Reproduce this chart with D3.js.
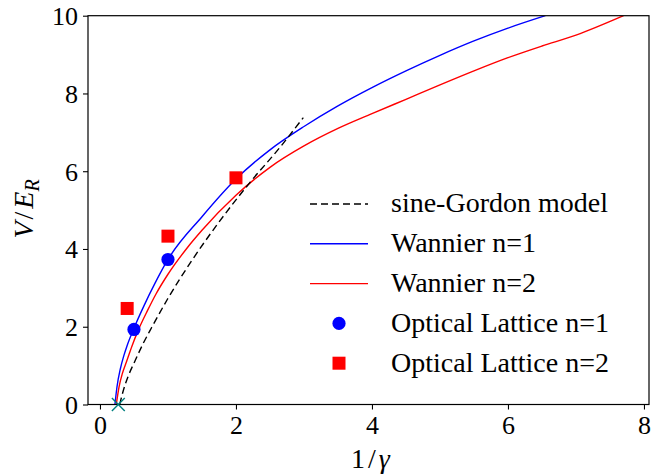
<!DOCTYPE html>
<html lang="en">
<head>
  <meta charset="UTF-8" />
  <title>V/E_R vs 1/gamma</title>
  <script src="https://d3js.org/d3.v7.min.js"></script>
  <style>
    body { margin: 0; background: #fff; }
    text { font-family: "Liberation Serif", "DejaVu Serif", serif; fill: #000; }
  </style>
</head>
<body>
  <div id="chart"></div>
  <script>
    // sine-Gordon model (dashed)
    var sgX = [0.29, 0.35, 0.42, 0.51, 0.63, 0.76, 0.99, 1.35, 1.72, 2.21, 2.65, 2.99];
    var sgY = [0, 0.4, 0.75, 1.1, 1.55, 1.98, 2.7, 3.7, 4.62, 5.72, 6.62, 7.38];

    // Wannier n=1
    var w1X = [0.22, 0.25, 0.3, 0.35, 0.4, 0.49, 0.65, 0.81, 1.0, 1.5, 2.0, 2.5, 3.0, 3.5, 4.0, 4.5, 5.0, 5.5, 6.0, 6.55];
    var w1Y = [0, 0.45, 0.92, 1.25, 1.52, 1.92, 2.55, 3.12, 3.73, 4.83, 5.8, 6.55, 7.15, 7.68, 8.15, 8.58, 8.98, 9.35, 9.68, 10.0];

    // Wannier n=2
    var w2X = [0.24, 0.28, 0.33, 0.39, 0.47, 0.56, 0.7, 0.82, 1.0, 1.27, 1.5, 2.0, 2.5, 3.0, 3.5, 4.0, 4.5, 5.0, 5.5, 6.0, 6.5, 7.0, 7.7];
    var w2Y = [0, 0.45, 0.8, 1.1, 1.5, 1.9, 2.42, 2.83, 3.35, 4.0, 4.48, 5.38, 6.1, 6.65, 7.1, 7.48, 7.85, 8.22, 8.58, 8.92, 9.22, 9.5, 10.0];

    // optical lattice points
    var ol1X = [0.5, 1.0];
    var ol1Y = [1.93, 3.73];
    var ol2X = [0.4, 1.0, 2.0];
    var ol2Y = [2.47, 4.33, 5.83];

    // cross marker
    var crossX = [0.27];
    var crossY = [0];

    var xTicks = [0, 2, 4, 6, 8];
    var yTicks = [0, 2, 4, 6, 8, 10];

    var legendLabels = ["sine-Gordon model", "Wannier n=1", "Wannier n=2",
                        "Optical Lattice n=1", "Optical Lattice n=2"];

    var w = 651, h = 474;
    var pLeft = 88, pRight = 649, pTop = 15.7, pBottom = 404.5;

    var x = d3.scaleLinear().domain([-0.176, 8.074]).range([pLeft, pRight]);
    var y = d3.scaleLinear().domain([0, 10]).range([pBottom, pTop]);

    var svg = d3.select("#chart").append("svg")
      .attr("width", w)
      .attr("height", h);

    svg.append("defs").append("clipPath").attr("id", "clip")
      .append("rect")
      .attr("x", pLeft).attr("y", pTop)
      .attr("width", pRight - pLeft).attr("height", pBottom - pTop);

    function pts(xs, ys) {
      return xs.map(function(d, i) { return [d, ys[i]]; });
    }

    var line = d3.line()
      .x(function(d) { return x(d[0]); })
      .y(function(d) { return y(d[1]); })
      .curve(d3.curveMonotoneX);

    var plot = svg.append("g").attr("clip-path", "url(#clip)");

    plot.append("path")
      .attr("d", line(pts(w1X, w1Y)))
      .attr("fill", "none").attr("stroke", "#0000ff").attr("stroke-width", 1.4);

    plot.append("path")
      .attr("d", line(pts(w2X, w2Y)))
      .attr("fill", "none").attr("stroke", "#ff0000").attr("stroke-width", 1.4);

    plot.append("path")
      .attr("d", line(pts(sgX, sgY)))
      .attr("fill", "none").attr("stroke", "#000").attr("stroke-width", 1.4)
      .attr("stroke-dasharray", "7,4");

    svg.selectAll("circle.ol1")
      .data(pts(ol1X, ol1Y))
      .enter()
      .append("circle")
      .attr("class", "ol1")
      .attr("cx", function(d) { return x(d[0]); })
      .attr("cy", function(d) { return y(d[1]); })
      .attr("r", 6.6)
      .attr("fill", "#0000ff");

    svg.selectAll("rect.ol2")
      .data(pts(ol2X, ol2Y))
      .enter()
      .append("rect")
      .attr("class", "ol2")
      .attr("x", function(d) { return x(d[0]) - 6.5; })
      .attr("y", function(d) { return y(d[1]) - 6.5; })
      .attr("width", 13)
      .attr("height", 13)
      .attr("fill", "#ff0000");

    // axes frame
    svg.append("rect")
      .attr("x", pLeft).attr("y", pTop)
      .attr("width", pRight - pLeft).attr("height", pBottom - pTop)
      .attr("fill", "none").attr("stroke", "#000").attr("stroke-width", 1.2);

    var xAxis = svg.append("g")
      .attr("transform", "translate(0," + pBottom + ")")
      .call(d3.axisBottom(x).tickValues(xTicks).tickSize(5).tickPadding(6));
    var yAxis = svg.append("g")
      .attr("transform", "translate(" + pLeft + ",0)")
      .call(d3.axisLeft(y).tickValues(yTicks).tickSize(5).tickPadding(5));

    [xAxis, yAxis].forEach(function(a) {
      a.select(".domain").remove();
      a.selectAll("line").attr("stroke", "#000").attr("stroke-width", 1.1);
      a.selectAll("text")
        .style("font-family", "'Liberation Serif', serif")
        .style("font-size", "26px")
        .attr("fill", "#000");
    });
    xAxis.selectAll("text").attr("dy", "0.72em");
    yAxis.selectAll("text").attr("dy", "0.34em");

    // cross marker
    svg.selectAll("path.cross")
      .data(pts(crossX, crossY))
      .enter()
      .append("path")
      .attr("class", "cross")
      .attr("d", d3.symbol().type(d3.symbolX).size(110))
      .attr("transform", function(d) { return "translate(" + x(d[0]) + "," + y(d[1]) + ")"; })
      .attr("fill", "none")
      .attr("stroke", "#008080")
      .attr("stroke-width", 1.4);

    // axis labels
    svg.append("text")
      .attr("x", (pLeft + pRight) / 2 + 2)
      .attr("y", 468)
      .attr("text-anchor", "middle")
      .style("font-size", "28px")
      .html("1<tspan dx='3'>/</tspan><tspan dx='3' font-style='italic'>γ</tspan>");

    svg.append("text")
      .attr("transform", "translate(33,209) rotate(-90)")
      .attr("text-anchor", "middle")
      .style("font-size", "28px")
      .html("<tspan font-style='italic'>V</tspan><tspan dx='2'>/</tspan><tspan dx='3' font-style='italic'>E</tspan><tspan font-style='italic' font-size='20px' dy='6'>R</tspan>");

    // legend
    var ly0 = 204, ldy = 39.8;
    var legend = svg.append("g");
    var items = legend.selectAll("g")
      .data(legendLabels)
      .enter()
      .append("g")
      .attr("transform", function(d, i) { return "translate(0," + (ly0 + i * ldy) + ")"; });

    items.append("text")
      .attr("x", 391)
      .attr("y", 0)
      .attr("dy", "0.3em")
      .style("font-size", "28px")
      .text(function(d) { return d; });

    var lineStyles = [
      { color: "#000", dash: "7,4" },
      { color: "#0000ff", dash: null },
      { color: "#ff0000", dash: null }
    ];
    items.filter(function(d, i) { return i < 3; })
      .append("line")
      .attr("x1", 310).attr("x2", 368)
      .attr("y1", 0).attr("y2", 0)
      .attr("stroke", function(d, i) { return lineStyles[i].color; })
      .attr("stroke-width", 1.4)
      .attr("stroke-dasharray", function(d, i) { return lineStyles[i].dash; });

    items.filter(function(d, i) { return i === 3; })
      .append("circle")
      .attr("cx", 339).attr("cy", 0).attr("r", 6.6)
      .attr("fill", "#0000ff");

    items.filter(function(d, i) { return i === 4; })
      .append("rect")
      .attr("x", 339 - 6.5).attr("y", -6.5)
      .attr("width", 13).attr("height", 13)
      .attr("fill", "#ff0000");
  </script>
</body>
</html>
